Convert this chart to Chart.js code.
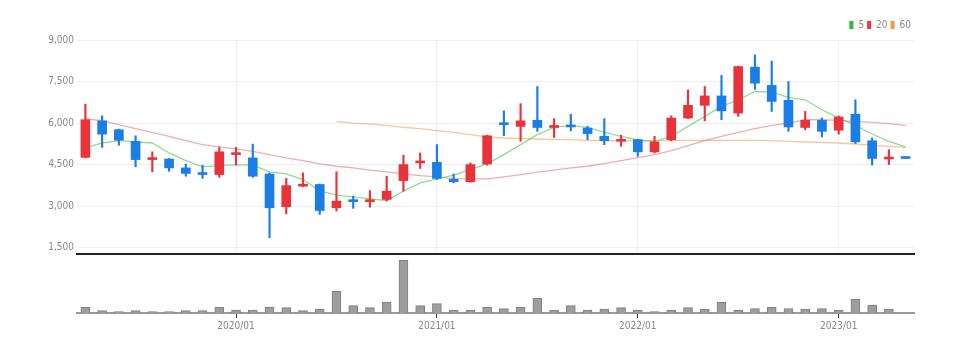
<!DOCTYPE html>
<html><head><meta charset="utf-8">
<script src="https://cdn.jsdelivr.net/npm/chart.js@4.4.1/dist/chart.umd.min.js"></script>
<style>
html,body{margin:0;padding:0;background:#fff;}
#wrap{position:relative;width:970px;height:352px;overflow:hidden;background:#fff;}
#pc{position:absolute;left:0;top:0;}
#vc{position:absolute;left:0;top:255px;}
</style></head><body>
<div id="wrap"><canvas id="pc" width="970" height="266"></canvas><canvas id="vc" width="970" height="97"></canvas></div>
<script>
const months = ['2019/04','2019/05','2019/06','2019/07','2019/08','2019/09','2019/10','2019/11','2019/12',
 '2020/01','2020/02','2020/03','2020/04','2020/05','2020/06','2020/07','2020/08','2020/09','2020/10','2020/11','2020/12',
 '2021/01','2021/02','2021/03','2021/04','2021/05','2021/06','2021/07','2021/08','2021/09','2021/10','2021/11','2021/12',
 '2022/01','2022/02','2022/03','2022/04','2022/05','2022/06','2022/07','2022/08','2022/09','2022/10','2022/11','2022/12',
 '2023/01','2023/02','2023/03','2023/04','2023/05'];
const openP  = [4760,6080,5760,5340,4680,4700,4380,4160,4140,4860,4740,4160,2980,3720,3780,2940,3200,3160,3240,3920,4560,4580,3970,3880,4520,5980,5880,6100,5840,5900,5820,5520,5340,5400,4960,5400,6180,6640,6980,6360,8020,7360,6820,5840,6100,5740,6320,5360,4700,4760];
const highP  = [6680,6260,5780,5540,4960,4720,4520,4480,5120,5120,5240,4200,4000,4200,3800,4240,3360,3560,4080,4840,4920,5220,4160,4560,5560,6440,6700,7320,6160,6320,5880,6160,5560,5420,5520,6260,7200,7320,7720,8060,8460,8240,7500,6420,6180,6260,6840,5460,5040,4760];
const lowP   = [4740,5120,5200,4420,4240,4260,4080,4000,4040,4480,4040,1860,2720,3700,2700,2820,2920,2960,3180,3540,4360,3960,3840,3860,4480,5540,5340,5700,5480,5720,5400,5220,5160,4800,4920,5360,6160,6080,6120,6240,7220,6420,5700,5760,5500,5600,5260,4480,4500,4720];
const closeP = [6120,5600,5380,4680,4720,4380,4180,4140,4960,4900,4080,2940,3740,3760,2840,3180,3160,3200,3540,4500,4620,4000,3880,4500,5540,5940,6080,5840,5880,5860,5620,5360,5380,4960,5320,6180,6640,6980,6440,8040,7440,6780,5860,6100,5700,6220,5320,4720,4740,4720];
const ma5  = [5100,5280,5364,5316,5280,4920,4644,4416,4464,4500,4476,4236,4164,3960,3552,3396,3336,3264,3204,3540,3840,3984,4116,4320,4524,4860,5220,5580,5844,5916,5844,5664,5520,5388,5340,5520,5880,6240,6600,6840,7140,7116,6924,6840,6480,6180,5916,5604,5340,5136];
const ma20 = [6156,6084,5940,5796,5664,5520,5364,5220,5136,5064,4980,4860,4740,4644,4524,4440,4380,4296,4236,4164,4104,4056,3996,3984,3984,4056,4140,4224,4296,4380,4440,4536,4644,4752,4860,5004,5184,5364,5520,5664,5796,5916,6000,6120,6120,6096,6060,6024,5976,5916];
const ma60 = [null,null,null,null,null,null,null,null,null,null,null,null,null,null,null,6060,6000,5964,5916,5844,5796,5724,5664,5580,5496,5460,5436,5424,5400,5400,5376,5364,5364,5352,5364,5364,5376,5376,5376,5376,5376,5364,5340,5316,5304,5280,5244,5196,5160,5124];
const volume = [170,70,40,70,40,40,70,70,180,90,90,180,160,70,120,650,220,160,330,1580,220,280,90,90,170,130,180,450,90,220,90,120,160,90,40,90,160,120,320,90,130,170,130,120,130,90,420,240,120,0];
const priceTicks = [1500,3000,4500,6000,7500,9000];
const maLabels = ['5','20','60'];

const FONT = "'Liberation Sans Narrow','DejaVu Sans Condensed','Roboto Condensed','Liberation Sans',sans-serif";
const upColor = '#e8333b', downColor = '#1a7ee6';
const candleColors = closeP.map((c,i)=> c >= openP[i] ? upColor : downColor);
const yearTicks = s => { s.ticks = s.ticks.filter(t => months[t.value] && months[t.value].endsWith('/01')); };

new Chart(document.getElementById('pc'), {
  type: 'bar',
  data: { labels: months, datasets: [
    { label:'wick', data: lowP.map((l,i)=>[l, highP[i]]), backgroundColor: candleColors, barThickness: 1.5, grouped:false, order:1, minBarLength:1 },
    { label:'body', data: openP.map((o,i)=>[o, closeP[i]]), backgroundColor: candleColors, barThickness: 9, grouped:false, order:0, minBarLength:2 },
    { type:'line', label: maLabels[0], data: ma5, borderColor:'rgba(100,205,100,0.7)', backgroundColor:'#2fba2f', borderWidth:1.3, pointRadius:0, tension:0, order:3 },
    { type:'line', label: maLabels[1], data: ma20, borderColor:'rgba(235,90,90,0.5)', backgroundColor:'#ee3a3a', borderWidth:1.3, pointRadius:0, tension:0, order:4 },
    { type:'line', label: maLabels[2], data: ma60, borderColor:'rgba(245,150,70,0.55)', backgroundColor:'#f4993a', borderWidth:1.3, pointRadius:0, tension:0, order:5 }
  ]},
  options: {
    responsive:false, animation:false, devicePixelRatio:1,
    layout: { padding: { top:17, right:56, bottom:0, left:0 } },
    plugins: {
      tooltip: { enabled:false },
      legend: { position:'top', align:'end',
        labels: { boxWidth:4, boxHeight:8, padding:3, color:'#888', font:{ family:FONT, size:10 },
          filter: it => it.datasetIndex >= 2,
          generateLabels: ch => Chart.defaults.plugins.legend.labels.generateLabels(ch).map(it => Object.assign(it, { strokeStyle: it.fillStyle, lineWidth: 0 })) } }
    },
    scales: {
      x: { offset:true, grid:{ offset:false, color:'#efefef', drawTicks:false }, ticks:{ display:false },
           border:{ color:'#222', width:2 }, afterBuildTicks: yearTicks, afterFit: s => { s.height = 12; } },
      y: { min:1270, max:9000, afterBuildTicks: s => { s.ticks = priceTicks.map(v => ({ value:v })); },
           ticks:{ padding:3, color:'#888', font:{ family:FONT, size:10 }, callback: v => v.toLocaleString('en-US') },
           grid:{ color:'#efefef', drawTicks:false }, border:{ display:false }, afterFit: s => { s.width = 77; } }
    }
  }
});

new Chart(document.getElementById('vc'), {
  type: 'bar',
  data: { labels: months, datasets: [
    { label:'volume', data: volume, backgroundColor:'#9d9d9d', borderColor:'#808080', borderWidth:{ top:1, left:1, right:1, bottom:0 }, barThickness:9 }
  ]},
  options: {
    responsive:false, animation:false, devicePixelRatio:1,
    layout: { padding: { top:1, right:56, bottom:19, left:0 } },
    plugins: { legend:{ display:false }, tooltip:{ enabled:false } },
    scales: {
      x: { offset:true, grid:{ offset:false, drawOnChartArea:false, drawTicks:true, tickLength:5, color:'#333' },
           ticks:{ color:'#888', font:{ family:FONT, size:10 }, padding:2, maxRotation:0, autoSkip:false },
           border:{ color:'#9a9a9a', width:2 }, afterBuildTicks: yearTicks, afterFit: s => { s.height = 20; } },
      y: { min:0, max:1710, ticks:{ display:false }, grid:{ display:false }, border:{ display:false }, afterFit: s => { s.width = 77; } }
    }
  }
});
</script>
</body></html>
